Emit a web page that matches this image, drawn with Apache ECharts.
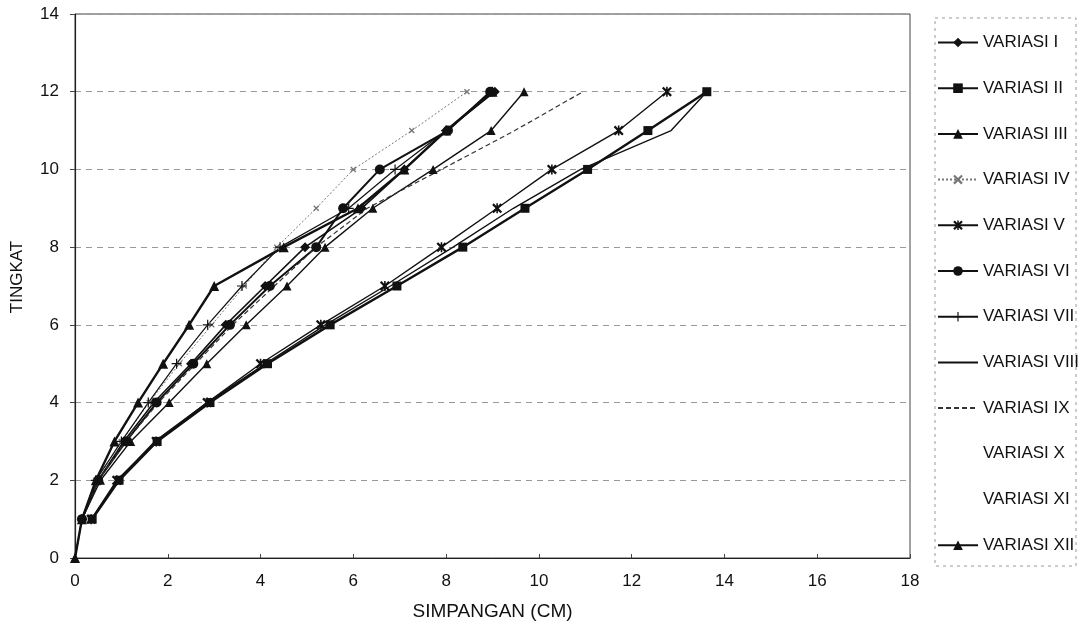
<!DOCTYPE html>
<html>
<head>
<meta charset="utf-8">
<script src="https://cdn.jsdelivr.net/npm/echarts@6/dist/echarts.min.js"></script>
<style>
  html, body { margin: 0; padding: 0; background: #fff; }
  #chart { width: 1084px; height: 635px; }
</style>
</head>
<body>
<div id="chart"></div>
<script>
// Storey levels (TINGKAT)
const floorsFrom0 = [0, 1, 2, 3, 4, 5, 6, 7, 8, 9, 10, 11, 12];
const floorsFrom1 = [1, 2, 3, 4, 5, 6, 7, 8, 9, 10, 11, 12];

// Lateral displacement (cm) per storey for each variation
const variasiI    = [0.15, 0.5, 1.05, 1.7, 2.5, 3.25, 4.1, 4.96, 6.18, 7.1, 8.0, 9.05];
const variasiII   = [0.37, 0.95, 1.77, 2.91, 4.15, 5.5, 6.94, 8.36, 9.7, 11.05, 12.35, 13.62];
const variasiIII  = [0, 0.15, 0.55, 1.2, 2.03, 2.84, 3.69, 4.57, 5.39, 6.42, 7.72, 8.97, 9.68];
const variasiIV   = [0.15, 0.45, 1.0, 1.6, 2.25, 2.95, 3.65, 4.35, 5.2, 6.0, 7.26, 8.45];
const variasiV    = [0.35, 0.9, 1.75, 2.85, 4.0, 5.3, 6.68, 7.9, 9.1, 10.28, 11.72, 12.76];
const variasiVI   = [0.15, 0.5, 1.1, 1.76, 2.55, 3.34, 4.2, 5.2, 5.78, 6.57, 8.04, 8.95];
const variasiVII  = [0.15, 0.45, 1.0, 1.58, 2.19, 2.86, 3.6, 4.42, 5.9, 6.9, 8.0, 9.0];
const variasiVIII = [0.37, 0.92, 1.72, 2.85, 4.1, 5.4, 6.8, 8.15, 9.45, 10.9, 12.85, 13.62];
const variasiIX   = [0.15, 0.5, 1.1, 1.8, 2.6, 3.4, 4.3, 5.2, 6.3, 7.9, 9.48, 10.95];
const variasiX    = [];
const variasiXI   = [];
const variasiXII  = [0, 0.15, 0.45, 0.85, 1.36, 1.9, 2.46, 3.0, 4.5, 6.1, 7.1, 8.0, 9.0];

const seriesNames = ['VARIASI I', 'VARIASI II', 'VARIASI III', 'VARIASI IV', 'VARIASI V', 'VARIASI VI',
  'VARIASI VII', 'VARIASI VIII', 'VARIASI IX', 'VARIASI X', 'VARIASI XI', 'VARIASI XII'];
const xTicks = [0, 2, 4, 6, 8, 10, 12, 14, 16, 18];
const yTicks = [0, 2, 4, 6, 8, 10, 12, 14];

// marker shapes
const CROSS = 'path://M0,1.6 L1.6,0 L5,3.4 L8.4,0 L10,1.6 L6.6,5 L10,8.4 L8.4,10 L5,6.6 L1.6,10 L0,8.4 L3.4,5 Z';
const STAR = 'path://M0,1.6 L1.6,0 L5,3.4 L8.4,0 L10,1.6 L6.6,5 L10,8.4 L8.4,10 L5,6.6 L1.6,10 L0,8.4 L3.4,5 Z M4.2,0 L5.8,0 L5.8,10 L4.2,10 Z';
const PLUS = 'path://M4.4,0 L5.6,0 L5.6,4.4 L10,4.4 L10,5.6 L5.6,5.6 L5.6,10 L4.4,10 L4.4,5.6 L0,5.6 L0,4.4 L4.4,4.4 Z';
const CLEAR = 'rgba(0,0,0,0)';

function pairs(xs, ys) {
  return xs.map((x, i) => [x, ys[i]]);
}

function makeSeries(name, xs, ys, opt) {
  const sym = opt.symbol || 'none';
  const lineColor = opt.color || '#111';
  return {
    name: name,
    type: 'line',
    data: pairs(xs, ys),
    symbol: sym,
    symbolSize: opt.size || 8,
    showSymbol: sym !== 'none',
    lineStyle: { color: lineColor, width: opt.width || 1.4, type: opt.type || 'solid' },
    // series drawn without markers keep a clear item colour so the legend shows only the line
    itemStyle: { color: sym === 'none' ? CLEAR : lineColor },
    emphasis: { disabled: true },
    animation: false,
    z: opt.z || 2
  };
}

const series = [
  makeSeries(seriesNames[0], variasiI, floorsFrom1, { symbol: 'diamond', size: 10, width: 1.6 }),
  makeSeries(seriesNames[1], variasiII, floorsFrom1, { symbol: 'rect', size: 9, width: 2.4 }),
  makeSeries(seriesNames[2], variasiIII, floorsFrom0, { symbol: 'triangle', size: 9, width: 1.4 }),
  makeSeries(seriesNames[3], variasiIV, floorsFrom1, { symbol: CROSS, size: 6, width: 1, color: '#777', type: [2, 2] }),
  makeSeries(seriesNames[4], variasiV, floorsFrom1, { symbol: STAR, size: 10, width: 1.4 }),
  makeSeries(seriesNames[5], variasiVI, floorsFrom1, { symbol: 'circle', size: 10, width: 2 }),
  makeSeries(seriesNames[6], variasiVII, floorsFrom1, { symbol: PLUS, size: 10, width: 1.2 }),
  makeSeries(seriesNames[7], variasiVIII, floorsFrom1, { symbol: 'none', width: 1.4 }),
  makeSeries(seriesNames[8], variasiIX, floorsFrom1, { symbol: 'none', width: 1.2, color: '#333', type: [5, 3] }),
  makeSeries(seriesNames[9], variasiX, floorsFrom1, { symbol: 'none', color: CLEAR, width: 0 }),
  makeSeries(seriesNames[10], variasiXI, floorsFrom1, { symbol: 'none', color: CLEAR, width: 0 }),
  makeSeries(seriesNames[11], variasiXII, floorsFrom0, { symbol: 'triangle', size: 10, width: 2.4 })
];

const chart = echarts.init(document.getElementById('chart'), null, { renderer: 'canvas' });

chart.setOption({
  backgroundColor: '#ffffff',
  animation: false,
  textStyle: { fontFamily: 'Liberation Sans, Arial, sans-serif', color: '#111' },
  grid: {
    left: 75, right: 174, top: 14, bottom: 77,
    show: true, borderColor: '#444', borderWidth: 1
  },
  xAxis: {
    type: 'value',
    min: xTicks[0], max: xTicks[xTicks.length - 1], interval: 2,
    name: 'SIMPANGAN (CM)',
    nameLocation: 'middle', nameGap: 44,
    nameTextStyle: { fontSize: 19, color: '#111' },
    axisLine: { show: true, lineStyle: { color: '#222', width: 1.2 } },
    axisTick: { show: true, inside: true, length: 4, lineStyle: { color: '#444' } },
    axisLabel: { fontSize: 17, color: '#111', margin: 15 },
    splitLine: { show: false }
  },
  yAxis: {
    type: 'value',
    min: yTicks[0], max: yTicks[yTicks.length - 1], interval: 2,
    axisLine: { show: true, lineStyle: { color: '#222', width: 1.2 } },
    axisTick: { show: true, inside: false, length: 5, lineStyle: { color: '#444' } },
    axisLabel: { fontSize: 17, color: '#111', margin: 16 },
    splitLine: { show: true, lineStyle: { color: '#999', width: 1, type: [6, 5] } }
  },
  legend: {
    orient: 'vertical',
    left: 932, top: 29,
    itemWidth: 40, itemHeight: 12,
    itemGap: 28.7,
    textStyle: { fontSize: 17, color: '#111' },
    data: seriesNames
  },
  graphic: [
    {
      type: 'rect',
      shape: { x: 935, y: 18, width: 141, height: 548 },
      style: { fill: 'none', stroke: '#999', lineWidth: 1, lineDash: [3, 4] },
      silent: true
    },
    {
      type: 'text',
      x: 17, y: 277,
      rotation: Math.PI / 2,
      style: {
        text: 'TINGKAT',
        font: '17px "Liberation Sans", Arial, sans-serif',
        fill: '#111',
        align: 'center',
        verticalAlign: 'middle'
      },
      silent: true
    }
  ],
  series: series
});
</script>
</body>
</html>
